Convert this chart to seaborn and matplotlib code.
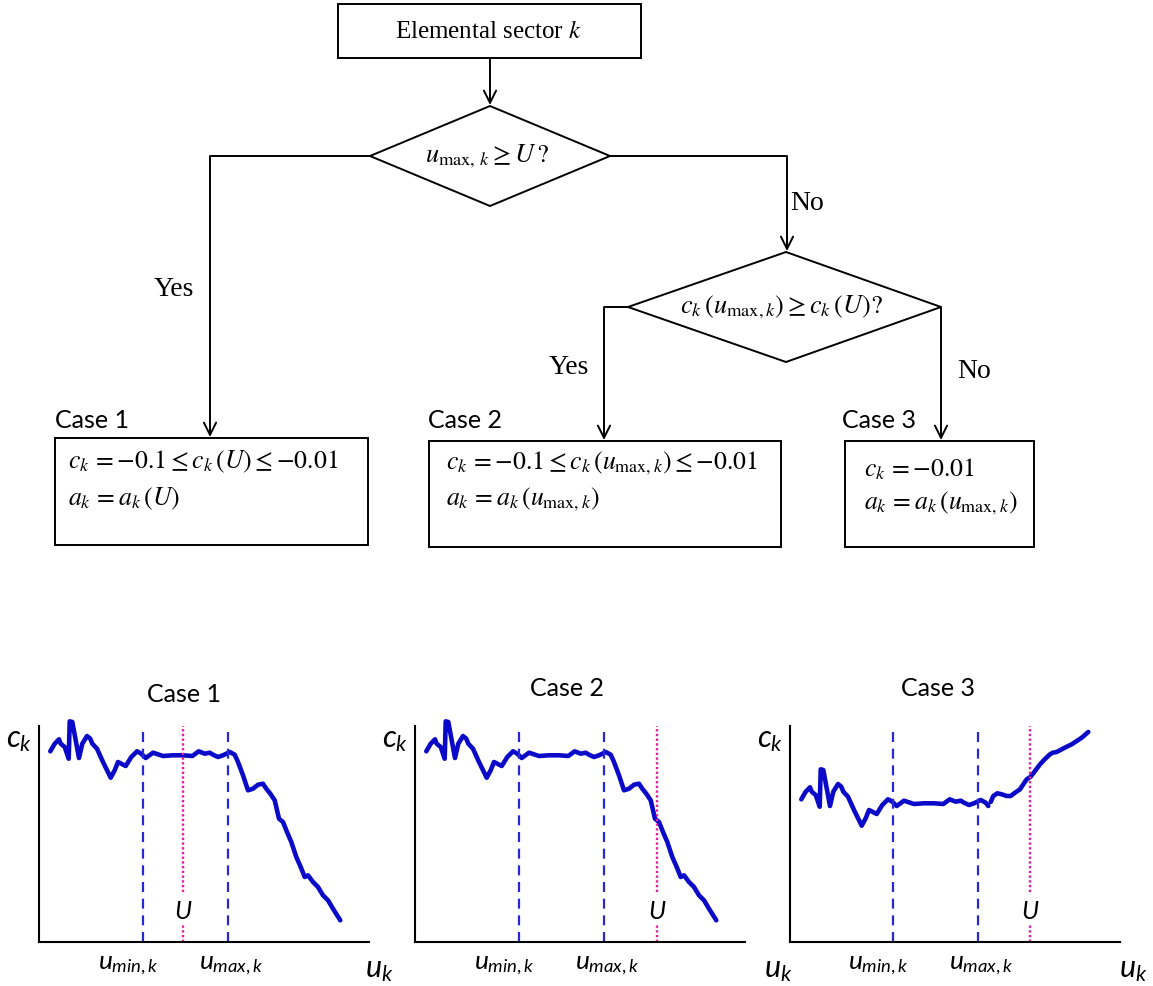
import matplotlib
matplotlib.use("Agg")
import matplotlib.pyplot as plt
from matplotlib.patches import Polygon, Rectangle
import seaborn as sns
import pandas as pd

# ---------------- data (pixel-like units) ----------------
case_titles = ["Case 1", "Case 2", "Case 3"]

# shared curve of Case 1 and Case 2 (x: offset from y-axis, y: height above x-axis)
curve_x = [11.3, 15.7, 20.0, 21.7, 25.7, 29.7, 30.7, 33.3, 36.7, 40.0, 43.3, 48.0, 51.3, 53.3,
           58.0, 64.0, 71.7, 75.7, 79.0, 82.3, 86.7, 92.3, 98.0, 102.3, 106.7, 114.0, 124.0,
           134.0, 144.0, 153.3, 159.7, 165.7, 170.7, 174.0, 179.0, 184.0, 190.7, 195.7, 199.0,
           204.0, 209.0, 214.0, 219.0, 224.0, 227.3, 231.3, 235.7, 240.0, 244.0, 248.0, 252.3,
           257.3, 261.7, 265.7, 269.0, 274.0, 279.0, 284.0, 289.0, 294.0, 301.3]
curve_y = [190.7, 198.3, 202.7, 198.3, 195.0, 183.3, 220.7, 220.0, 201.7, 184.0, 198.3, 206.0,
           203.3, 198.3, 193.3, 180.0, 164.3, 171.7, 180.0, 178.3, 176.0, 185.0, 190.7, 188.3,
           184.0, 189.3, 186.0, 186.7, 186.7, 186.0, 190.7, 188.3, 189.3, 187.3, 185.0, 186.7,
           190.0, 187.3, 180.0, 166.7, 151.7, 153.3, 157.3, 158.3, 153.3, 148.3, 141.7, 123.3,
           120.0, 110.0, 100.0, 85.0, 75.0, 65.0, 66.7, 60.0, 55.0, 46.7, 41.7, 33.3, 21.7]

# Case 3 curve: first segment (before the small gap) and second segment
case3_x1 = [11.3, 15.7, 20.0, 21.7, 25.7, 29.7, 30.7, 33.3, 36.7, 40.0, 43.3, 48.0, 51.3, 53.3,
            58.0, 64.0, 71.7, 75.7, 79.0, 82.3, 86.7, 92.3, 98.0, 102.3, 106.7, 114.0, 124.0,
            134.0, 144.0, 153.3, 159.7, 165.7, 170.7, 174.0, 179.0, 184.0, 190.7, 195.7, 198.3]
case3_y1 = [142.7, 150.3, 154.7, 150.3, 147.0, 135.3, 172.7, 172.0, 153.7, 136.0, 150.3, 158.0,
            155.3, 150.3, 145.3, 132.0, 116.3, 123.7, 132.0, 130.3, 128.0, 137.0, 142.7, 140.3,
            136.0, 141.3, 138.0, 138.7, 138.7, 138.0, 142.7, 140.3, 141.3, 139.3, 137.0, 138.7,
            142.0, 139.3, 136.0]
case3_x2 = [200.7, 203.3, 207.3, 211.7, 216.7, 220.7, 225.0, 230.0, 233.3, 236.7, 240.7, 245.0,
            250.0, 255.0, 260.0, 262.7, 266.7, 271.7, 276.7, 281.7, 286.7, 291.7, 298.3]
case3_y2 = [140.0, 146.0, 148.7, 147.7, 146.0, 146.0, 149.3, 152.7, 157.7, 162.7, 165.3, 171.0,
            177.7, 183.0, 187.7, 189.3, 190.0, 192.7, 195.3, 197.7, 201.0, 204.3, 210.0]

u_min = [104, 104, 103]
u_max = [189, 189, 188]
u_U = [144, 242, 240]

# ---------------- style ----------------
sns.set_theme(style="white")
plt.rcParams["font.family"] = ["Lato", "DejaVu Sans"]
plt.rcParams["text.color"] = "black"
plt.rcParams["mathtext.fontset"] = "custom"
plt.rcParams["mathtext.it"] = "Lato:italic"
plt.rcParams["mathtext.rm"] = "Lato"

W, H = 1153, 987
fig = plt.figure(figsize=(W / 100, H / 100), dpi=100)
fig.patch.set_facecolor("white")

BLUE = "#0a0ac8"
DASH = "#2828d8"
MAG = "#e0209e"

# ---------------- three small charts ----------------
ax_left = [39, 415, 790]
ax_w, ax_h = 330, 216
ax_bottom = 943
title_dx = [145, 152, 148]
title_y = [702, 696, 696]
ulabel_x = [1.03, 1.10, 1.04]

for i in range(3):
    ax = fig.add_axes([ax_left[i] / W, (H - ax_bottom) / H, ax_w / W, ax_h / H])
    ax.set_xlim(0, ax_w)
    ax.set_ylim(0, ax_h)
    if i < 2:
        df = pd.DataFrame({"u": curve_x, "c": curve_y})
        sns.lineplot(data=df, x="u", y="c", ax=ax, color=BLUE, lw=3.3,
                     sort=False, estimator=None, clip_on=False)
    else:
        df1 = pd.DataFrame({"u": case3_x1, "c": case3_y1})
        df2 = pd.DataFrame({"u": case3_x2, "c": case3_y2})
        sns.lineplot(data=df1, x="u", y="c", ax=ax, color=BLUE, lw=3.3,
                     sort=False, estimator=None, clip_on=False)
        sns.lineplot(data=df2, x="u", y="c", ax=ax, color=BLUE, lw=3.3,
                     sort=False, estimator=None, clip_on=False)
    ax.axvline(u_min[i], color=DASH, lw=1.6, ls=(0, (4.5, 3)))
    ax.axvline(u_max[i], color=DASH, lw=1.6, ls=(0, (4.5, 3)))
    ax.axvline(u_U[i], ymin=50 / ax_h, ymax=1, color=MAG, lw=1.7, ls=(0, (1, 1)))
    ax.axvline(u_U[i], ymin=0, ymax=17 / ax_h, color=MAG, lw=1.7, ls=(0, (1, 1)))
    ax.text(u_U[i], 31, "$U$", ha="center", va="center", fontsize=18)
    ax.text(u_min[i] - 15, -22, "$u_{min,k}$", ha="center", va="center", fontsize=19)
    ax.text(u_max[i] + 3, -22, "$u_{max,k}$", ha="center", va="center", fontsize=19)
    ax.text(ulabel_x[i], -0.125, "$u_k$", transform=ax.transAxes, ha="center",
            va="center", fontsize=22)
    ax.text(-0.06, 0.94, "$c_k$", transform=ax.transAxes, ha="center",
            va="center", fontsize=22)
    ax.set_xticks([])
    ax.set_yticks([])
    ax.set_xlabel("")
    ax.set_ylabel("")
    sns.despine(ax=ax)
    for s in ("left", "bottom"):
        ax.spines[s].set_color("black")
        ax.spines[s].set_linewidth(1.5)
    ax.text(title_dx[i] / ax_w, 1 + (ax_bottom - ax_h - title_y[i]) / ax_h, case_titles[i],
            transform=ax.transAxes, ha="center", va="baseline", fontsize=18)

# ---------------- flowchart overlay ----------------
fa = fig.add_axes([0, 0, 1, 1])
fa.set_xlim(0, W)
fa.set_ylim(H, 0)
fa.axis("off")
LW = 1.4
SERIF = "Liberation Serif"


def box(x0, y0, x1, y1):
    fa.add_patch(Rectangle((x0, y0), x1 - x0, y1 - y0, fill=False, ec="black", lw=LW))


def line(xs, ys):
    fa.plot(xs, ys, color="black", lw=LW, solid_capstyle="butt")


def arrow(x, y0, y1):
    fa.annotate("", xy=(x, y1), xytext=(x, y0),
                arrowprops=dict(arrowstyle="->", color="black", lw=LW,
                                mutation_scale=22, shrinkA=0, shrinkB=0))


# top box
box(338, 5, 641, 59)
fa.text(489, 32, "Elemental sector $k$", ha="center", va="center", fontsize=18,
        family=SERIF, math_fontfamily="stix")
arrow(490, 59, 106)

# diamond 1
fa.add_patch(Polygon([(490, 107), (610, 157), (490, 207), (370, 157)], closed=True,
                     fill=False, ec="black", lw=LW))
fa.text(487, 156, r"$u_{\mathrm{max},\,k} \geq U\,?$", ha="center", va="center",
        fontsize=19, math_fontfamily="stix")
line([370, 210], [157, 157])
arrow(210, 157, 438)
fa.text(174, 289, "Yes", ha="center", va="center", fontsize=20, family=SERIF)
line([610, 787], [157, 157])
arrow(787, 157, 252)
fa.text(807, 203, "No", ha="center", va="center", fontsize=20, family=SERIF)

# diamond 2
fa.add_patch(Polygon([(786, 253), (941, 308), (786, 363), (628, 308)], closed=True,
                     fill=False, ec="black", lw=LW))
fa.text(781, 307, r"$c_k\,(u_{\mathrm{max},k}) \geq c_k\,(U)?$", ha="center",
        va="center", fontsize=19, math_fontfamily="stix")
line([628, 604], [308, 308])
arrow(604, 308, 441)
fa.text(569, 368, "Yes", ha="center", va="center", fontsize=20, family=SERIF)
arrow(941, 308, 441)
fa.text(974, 372, "No", ha="center", va="center", fontsize=20, family=SERIF)

# case boxes
fa.text(55, 421, "Case 1", ha="left", va="center", fontsize=18)
box(55, 439, 368, 546)
fa.text(68, 462, r"$c_k\, = {-0.1} \leq c_k\,(U) \leq {-0.01}$", ha="left", va="center",
        fontsize=18.5, math_fontfamily="stix")
fa.text(68, 499, r"$a_k\, = a_k\,(U)$", ha="left", va="center",
        fontsize=18.5, math_fontfamily="stix")

fa.text(428, 421, "Case 2", ha="left", va="center", fontsize=18)
box(429, 442, 781, 548)
fa.text(446, 463, r"$c_k\, = {-0.1} \leq c_k\,(u_{\mathrm{max},k}) \leq {-0.01}$",
        ha="left", va="center", fontsize=18.5, math_fontfamily="stix")
fa.text(446, 499, r"$a_k\, = a_k\,(u_{\mathrm{max},k})$", ha="left", va="center",
        fontsize=18.5, math_fontfamily="stix")

fa.text(842, 421, "Case 3", ha="left", va="center", fontsize=18)
box(845, 442, 1034, 548)
fa.text(864, 469, r"$c_k\, = {-0.01}$", ha="left", va="center",
        fontsize=18.5, math_fontfamily="stix")
fa.text(864, 503, r"$a_k\, = a_k\,(u_{\mathrm{max},k})$", ha="left", va="center",
        fontsize=18.5, math_fontfamily="stix")

fig.savefig("out.png", dpi=100, facecolor="white")
